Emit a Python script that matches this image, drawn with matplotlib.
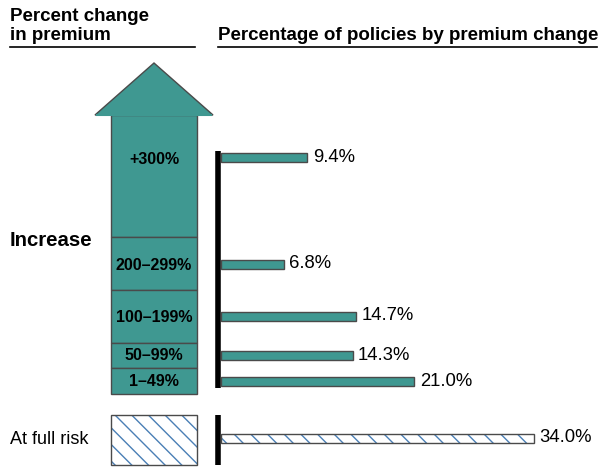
import matplotlib.pyplot as plt
from matplotlib.patches import Polygon, Rectangle

plt.rcParams['font.family'] = ['Liberation Sans', 'DejaVu Sans']

# data
categorias = ['+300%', '200–299%', '100–199%', '50–99%', '1–49%']
porcentajes = [9.4, 6.8, 14.7, 14.3, 21.0]
etiqueta_riesgo = 'At full risk'
porcentaje_riesgo = 34.0

# layout (pixels, y hacia abajo)
W, H = 598, 468
limites = [115, 237, 290, 343, 368, 394]   # bordes de los segmentos de la flecha
filas_y = [157, 264, 316, 355, 381]
texto_y = [160, 266, 317, 355, 381]
fila_riesgo_y = 438
x0_barras = 221
px_por_pct = 9.2

verde = '#3f9891'
borde = '#4a4a4a'
azul = '#4a7fb5'

fig = plt.figure(figsize=(W / 100, H / 100), dpi=100)
ax = fig.add_axes([0, 0, 1, 1])
ax.set_xlim(0, W)
ax.set_ylim(H, 0)
ax.axis('off')

# titulos
ax.text(10, 21, 'Percent change', fontsize=13.5, fontweight='bold', va='baseline')
ax.text(10, 39.5, 'in premium', fontsize=13.5, fontweight='bold', va='baseline')
ax.plot([10, 195], [47, 47], color='black', lw=1.2)
ax.text(218, 39.5, 'Percentage of policies by premium change', fontsize=13.5,
        fontweight='bold', va='baseline')
ax.plot([218, 597], [47, 47], color='black', lw=1.2)

ax.text(10, 241, 'Increase', fontsize=14.7, fontweight='bold', va='center')
ax.text(10, 440, etiqueta_riesgo, fontsize=13, va='center')

# flecha
ax.add_patch(Polygon([[95, limites[0]], [154, 63], [213, limites[0]]],
                     closed=True, facecolor=verde, edgecolor=borde, lw=1))
for i, cat in enumerate(categorias):
    top, bot = limites[i], limites[i + 1]
    ax.add_patch(Rectangle((111, top), 86, bot - top, facecolor=verde,
                           edgecolor=borde, lw=1))
    ax.text(154, texto_y[i], cat, fontsize=11.5, fontweight='bold',
            ha='center', va='center')
ax.add_patch(Polygon([[96, limites[0]], [212, limites[0]]], closed=False,
                     edgecolor=verde, lw=1.5))

# caja de riesgo (rayado azul, borde gris)
ax.add_patch(Rectangle((111, 415), 86, 50, facecolor='white', edgecolor=azul,
                       lw=0, hatch='\\\\'))
ax.add_patch(Rectangle((111, 415), 86, 50, fill=False, edgecolor=borde, lw=1))

# ejes verticales negros
ax.plot([218, 218], [151, 388], color='black', lw=4, solid_capstyle='butt')
ax.plot([218, 218], [415, 465], color='black', lw=4, solid_capstyle='butt')

# barras
axb = fig.add_axes([x0_barras / W, 0, (W - x0_barras) / W, 1])
axb.set_xlim(0, (W - x0_barras) / px_por_pct)
axb.set_ylim(H, 0)
axb.axis('off')
axb.barh(filas_y, porcentajes, height=9, color=verde, edgecolor=borde, lw=1)
for y, v in zip(filas_y, porcentajes):
    axb.text(v + 0.6, y, f'{v:.1f}%', fontsize=13.3, va='center')
axb.barh([fila_riesgo_y], [porcentaje_riesgo], height=9, color='white',
         edgecolor=azul, lw=0, hatch='\\\\')
axb.barh([fila_riesgo_y], [porcentaje_riesgo], height=9, fill=False,
         edgecolor=borde, lw=1)
axb.text(porcentaje_riesgo + 0.6, fila_riesgo_y, f'{porcentaje_riesgo:.1f}%',
         fontsize=13.3, va='center')

fig.savefig('out.png', dpi=100)
